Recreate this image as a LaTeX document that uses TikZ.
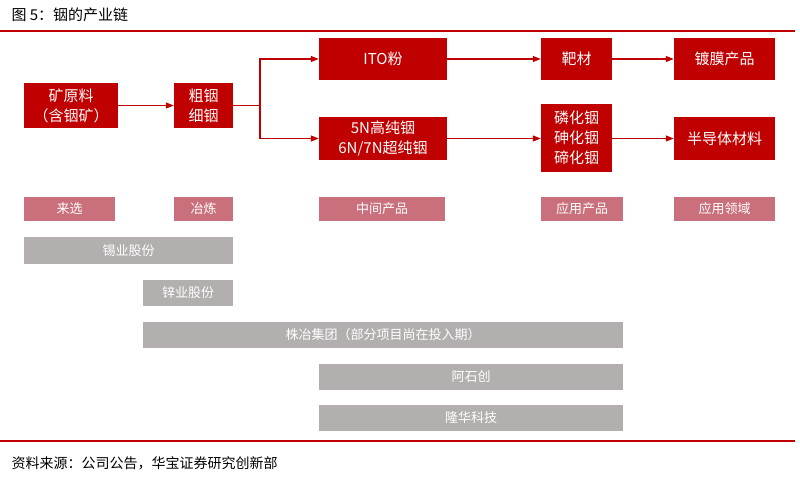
\documentclass[tikz,border=0pt]{standalone}
\usepackage{fontspec}
\setmainfont{Noto Sans CJK SC}
\usetikzlibrary{arrows.meta}
\begin{document}
\definecolor{rd}{HTML}{C00000}
\definecolor{pk}{HTML}{CA6F7C}
\definecolor{gy}{HTML}{B3AFAF}
\begin{tikzpicture}[x=1pt,y=-1pt,
 box/.style={fill=rd,text=white,font=\fontsize{15}{20}\selectfont,align=center,inner sep=0},
 lab/.style={fill=pk,text=white,font=\fontsize{13}{15}\selectfont,inner sep=0},
 bar/.style={fill=gy,text=white,font=\fontsize{13}{15}\selectfont,inner sep=0},
 arr/.style={rd,line width=1.2pt,-{Triangle[length=8pt,width=6pt]}}]
\useasboundingbox (0,0) rectangle (800,481);
\node[anchor=west,font=\fontsize{15}{17}\selectfont] (t) at (8,15) {图 5：铟的产业链};
\draw[rd,line width=2pt] (0,31) -- (795,31);
\draw[rd,line width=2pt] (0,441) -- (795,441);
\node[anchor=west,font=\fontsize{14}{16}\selectfont] (s) at (8,463) {资料来源：公司公告，华宝证券研究创新部};
\newcommand{\bx}[6]{\node[#1,minimum width=#4-#2,minimum height=#5-#3] (#6) at ({(#2+#4)/2},{(#3+#5)/2})}
\bx{box}{24}{83}{118}{128}{a} {矿原料\\（含铟矿）};
\bx{box}{174}{83}{233}{128}{b} {粗铟\\细铟};
\bx{box}{319}{38}{447}{80}{c} {ITO粉};
\bx{box}{319}{117}{447}{160}{d} {5N高纯铟\\6N/7N超纯铟};
\bx{box}{541}{38}{612}{80}{e} {靶材};
\bx{box}{541}{104}{612}{172}{f} {磷化铟\\砷化铟\\碲化铟};
\bx{box}{674}{38}{775}{80}{g} {镀膜产品};
\bx{box}{674}{117}{775}{160}{h} {半导体材料};
\bx{lab}{24}{197}{115}{221}{l1} {来选};
\bx{lab}{174}{197}{233}{221}{l2} {冶炼};
\bx{lab}{319}{197}{445}{221}{l3} {中间产品};
\bx{lab}{541}{197}{623}{221}{l4} {应用产品};
\bx{lab}{674}{197}{775}{221}{l5} {应用领域};
\bx{bar}{24}{237}{233}{264}{g1} {锡业股份};
\bx{bar}{143}{280}{233}{306}{g2} {锌业股份};
\bx{bar}{143}{322}{623}{348}{g3} {株冶集团（部分项目尚在投入期）};
\bx{bar}{319}{364}{623}{390}{g4} {阿石创};
\bx{bar}{319}{405}{623}{431}{g5} {隆华科技};
\draw[arr] (a) -- (b);
\coordinate (j) at (260,105.5);
\draw[rd,line width=1.2pt] (b.east) -- (j);
\draw[arr] (j) |- (c.west);
\draw[arr] (j) |- (d.west);
\draw[arr] (c) -- (e);
\draw[arr] (e) -- (g);
\draw[arr] (d) -- (d -| f.west);
\draw[arr] (h -| f.east) -- (h);
\end{tikzpicture}
\end{document}
